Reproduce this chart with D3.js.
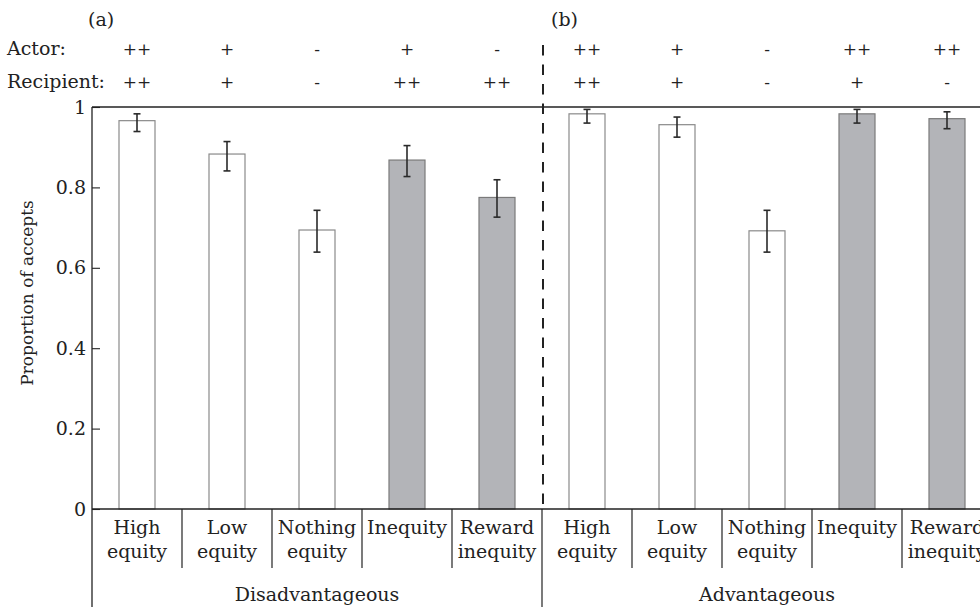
<!DOCTYPE html>
<html>
<head>
<meta charset="utf-8">
<script src="https://cdn.jsdelivr.net/npm/d3@7"></script>
<style>
  html, body { margin: 0; padding: 0; background: #fff; }
  svg { display: block; }
  text { font-family: "DejaVu Serif", serif; fill: #222; }
</style>
</head>
<body>
<svg id="chart" width="980" height="607"></svg>
<script>
// ---- data ----
const groups = ["Disadvantageous", "Advantageous"];
const panelLetters = ["(a)", "(b)"];
const conditionLines = [["High", "equity"], ["Low", "equity"], ["Nothing", "equity"], ["Inequity"], ["Reward", "inequity"]];
const inequityCondition = [false, false, false, true, true];

const disadvMean = [0.966, 0.883, 0.694, 0.868, 0.775];
const disadvLow  = [0.939, 0.841, 0.639, 0.827, 0.726];
const disadvHigh = [0.983, 0.914, 0.743, 0.904, 0.819];

const advMean = [0.983, 0.956, 0.692, 0.983, 0.971];
const advLow  = [0.960, 0.925, 0.639, 0.960, 0.946];
const advHigh = [0.994, 0.975, 0.743, 0.994, 0.988];

const disadvActor     = ["++", "+", "-", "+", "-"];
const disadvRecipient = ["++", "+", "-", "++", "++"];
const advActor        = ["++", "+", "-", "++", "++"];
const advRecipient    = ["++", "+", "-", "+", "-"];

const yTicks = [0, 0.2, 0.4, 0.6, 0.8, 1];
const yTickLabels = ["0", "0.2", "0.4", "0.6", "0.8", "1"];

// ---- build table ----
const rows = [];
[[disadvMean, disadvLow, disadvHigh, disadvActor, disadvRecipient],
 [advMean, advLow, advHigh, advActor, advRecipient]].forEach((arr, g) => {
  arr[0].forEach((m, i) => {
    rows.push({key: g + "-" + i, group: g, idx: i, mean: m, lo: arr[1][i], hi: arr[2][i],
               actor: arr[3][i], recipient: arr[4][i], lines: conditionLines[i], grey: inequityCondition[i]});
  });
});

const svg = d3.select("#chart");
const plotL = 92, plotR = 992, plotT = 107, plotB = 509;

const x = d3.scaleBand().domain(rows.map(d => d.key)).range([plotL, plotR]).paddingInner(0.6).paddingOuter(0.3);
const y = d3.scaleLinear().domain([0, 1]).range([plotB, plotT]);
const step = x.step();
const groupStart = g => plotL + g * 5 * step;

// bars
svg.append("g").selectAll("rect").data(rows).join("rect")
  .attr("x", d => x(d.key)).attr("width", x.bandwidth())
  .attr("y", d => y(d.mean)).attr("height", d => y(0) - y(d.mean))
  .attr("fill", d => d.grey ? "#b3b4b8" : "#fff")
  .attr("stroke", d => d.grey ? "#7a7a7a" : "#8a8a8a")
  .attr("stroke-width", 1.2);

// error bars
const eb = svg.append("g").attr("stroke", "#2a2a2a").attr("stroke-width", 1.6);
rows.forEach(d => {
  const cx = x(d.key) + x.bandwidth() / 2;
  eb.append("line").attr("x1", cx).attr("x2", cx).attr("y1", y(d.lo)).attr("y2", y(d.hi));
  eb.append("line").attr("x1", cx - 3.5).attr("x2", cx + 3.5).attr("y1", y(d.lo)).attr("y2", y(d.lo));
  eb.append("line").attr("x1", cx - 3.5).attr("x2", cx + 3.5).attr("y1", y(d.hi)).attr("y2", y(d.hi));
});

// y axis
const yAxis = d3.axisLeft(y).tickValues(yTicks).tickFormat((d, i) => yTickLabels[i]).tickSize(-8).tickPadding(6);
const ya = svg.append("g").attr("transform", `translate(${plotL},0)`).call(yAxis);
ya.select(".domain").remove();
ya.selectAll(".tick line").attr("stroke", "#222").attr("stroke-width", 1.1);
ya.selectAll(".tick text").attr("font-family", "DejaVu Serif").attr("font-size", 19).attr("fill", "#222");

// frame lines
svg.append("line").attr("x1", plotL).attr("x2", 980).attr("y1", plotT).attr("y2", plotT).attr("stroke", "#222").attr("stroke-width", 1.3);
svg.append("line").attr("x1", plotL).attr("x2", 980).attr("y1", plotB).attr("y2", plotB).attr("stroke", "#222").attr("stroke-width", 1.3);
svg.append("line").attr("x1", plotL).attr("x2", plotL).attr("y1", plotT).attr("y2", 607).attr("stroke", "#222").attr("stroke-width", 1.3);

// category separators
for (let k = 1; k < 10; k++) {
  const sx = plotL + k * step;
  if (k === 5) continue;
  svg.append("line").attr("x1", sx).attr("x2", sx).attr("y1", plotB).attr("y2", 568).attr("stroke", "#222").attr("stroke-width", 1.2);
}
svg.append("line").attr("x1", groupStart(1)).attr("x2", groupStart(1)).attr("y1", plotB).attr("y2", 607).attr("stroke", "#222").attr("stroke-width", 1.2);

// dashed divider
svg.append("line").attr("x1", groupStart(1) + 1).attr("x2", groupStart(1) + 1).attr("y1", 45).attr("y2", plotB)
  .attr("stroke", "#222").attr("stroke-width", 2).attr("stroke-dasharray", "10.5,9");

// category labels
rows.forEach(d => {
  const cx = x(d.key) + x.bandwidth() / 2;
  const t = svg.append("text").attr("text-anchor", "middle").attr("font-size", 19);
  d.lines.forEach((ln, j) => {
    t.append("tspan").attr("x", cx).attr("y", 534 + j * 24).text(ln);
  });
});

// group labels
groups.forEach((g, i) => {
  svg.append("text").attr("x", groupStart(i) + 2.5 * step).attr("y", 601).attr("text-anchor", "middle").attr("font-size", 19).text(g);
});

// panel letters
panelLetters.forEach((p, i) => {
  svg.append("text").attr("x", groupStart(i) + (i === 0 ? -4 : 9)).attr("y", 26).attr("font-size", 19).text(p);
});

// actor / recipient rows
svg.append("text").attr("x", 7).attr("y", 55).attr("font-size", 19).text("Actor:");
svg.append("text").attr("x", 7).attr("y", 88).attr("font-size", 19).text("Recipient:");
rows.forEach(d => {
  const cx = x(d.key) + x.bandwidth() / 2;
  svg.append("text").attr("x", cx).attr("y", 55).attr("text-anchor", "middle").attr("font-size", 17).text(d.actor);
  svg.append("text").attr("x", cx).attr("y", 88).attr("text-anchor", "middle").attr("font-size", 17).text(d.recipient);
});

// y title
svg.append("text").attr("transform", "translate(33,293) rotate(-90)").attr("text-anchor", "middle").attr("font-size", 17).text("Proportion of accepts");
</script>
</body>
</html>
